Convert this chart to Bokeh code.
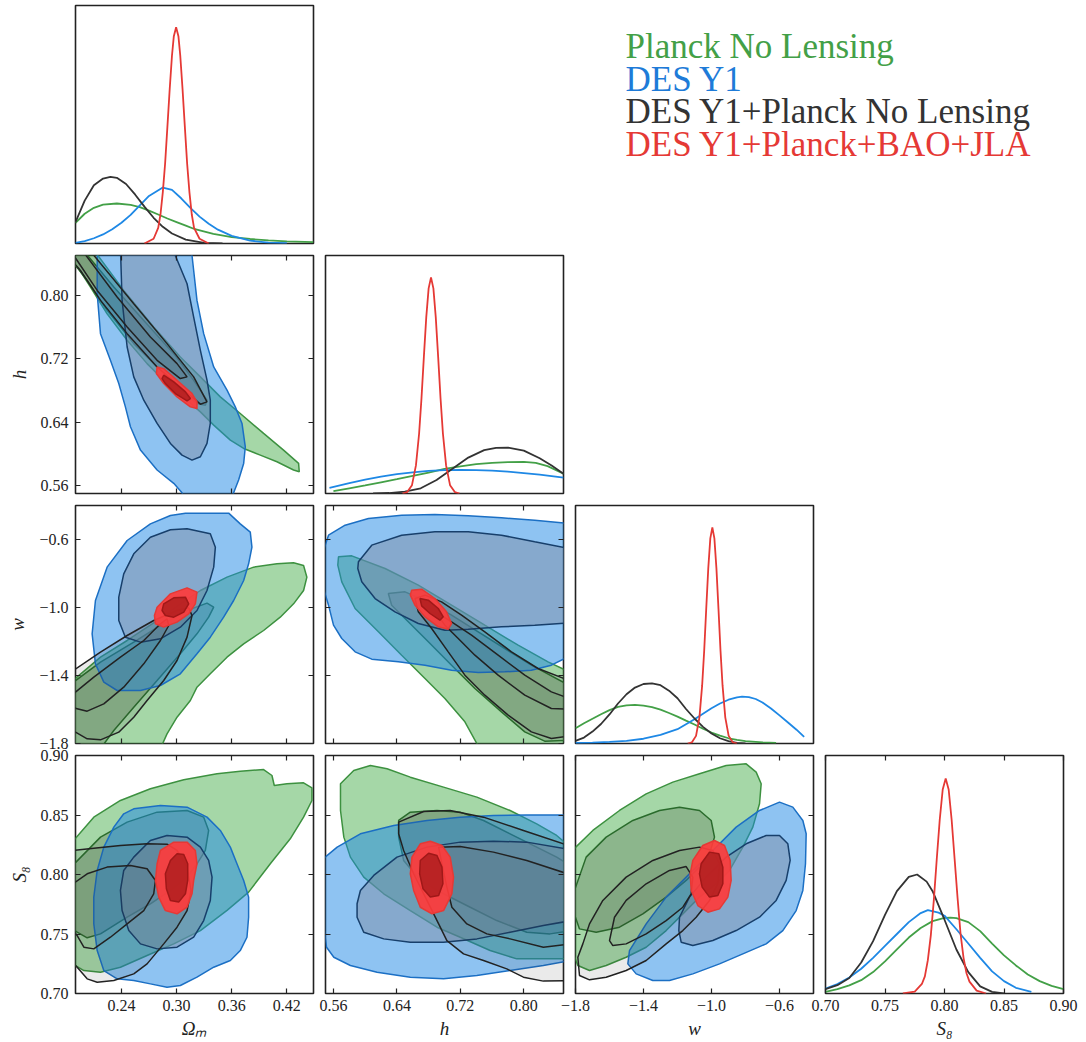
from bokeh.plotting import figure
from bokeh.models import Range1d, LinearAxis, FixedTicker, CustomJSTickFormatter, ColumnDataSource
from bokeh.layouts import row, column
from bokeh.core.properties import value
from bokeh.embed import file_html
from bokeh.resources import INLINE

# ---------------------------------------------------------------- axes
PARAMS = ["om", "h", "w", "s8"]
AXIS_LABELS = {"om": "Ωₘ", "h": "h", "w": "w", "s8": "S₈"}
OM_RANGE = (0.19, 0.449)
H_RANGE = (0.55, 0.85)
W_RANGE = (-1.8, -0.4)
S8_RANGE = (0.70, 0.90)
OM_TICKS = [0.24, 0.30, 0.36, 0.42]
H_TICKS = [0.56, 0.64, 0.72, 0.80]
W_TICKS = [-1.8, -1.4, -1.0, -0.6]
S8_TICKS = [0.70, 0.75, 0.80, 0.85, 0.90]
DECIMALS = {"om": 2, "h": 2, "w": 1, "s8": 2}

SERIES = ["planck", "des", "comb", "full"]
SERIES_NAMES = ["Planck No Lensing", "DES Y1", "DES Y1+Planck No Lensing", "DES Y1+Planck+BAO+JLA"]

# ---------------------------------------------------------------- 1D marginals
planck_om_x = [0.19, 0.20, 0.21, 0.22, 0.235, 0.25, 0.26, 0.27, 0.28, 0.29, 0.30, 0.31, 0.32, 0.34, 0.36, 0.38, 0.40, 0.42, 0.449]
planck_om_y = [0.087, 0.125, 0.150, 0.163, 0.168, 0.162, 0.153, 0.138, 0.122, 0.105, 0.090, 0.075, 0.060, 0.040, 0.027, 0.019, 0.013, 0.009, 0.006]
des_om_x = [0.19, 0.20, 0.21, 0.22, 0.23, 0.24, 0.25, 0.26, 0.27, 0.285, 0.295, 0.305, 0.315, 0.325, 0.335, 0.345, 0.36, 0.38, 0.40, 0.42]
des_om_y = [0.003, 0.010, 0.022, 0.038, 0.060, 0.087, 0.120, 0.160, 0.200, 0.235, 0.225, 0.190, 0.150, 0.113, 0.083, 0.058, 0.032, 0.012, 0.004, 0.001]
comb_om_x = [0.19, 0.20, 0.21, 0.22, 0.228, 0.235, 0.245, 0.255, 0.265, 0.275, 0.285, 0.295, 0.31, 0.33, 0.35]
comb_om_y = [0.090, 0.180, 0.245, 0.273, 0.280, 0.276, 0.250, 0.205, 0.155, 0.108, 0.070, 0.042, 0.016, 0.003, 0.0]
full_om_x = [0.265, 0.275, 0.28, 0.2825, 0.285, 0.2875, 0.29, 0.2925, 0.295, 0.297, 0.2995, 0.302, 0.304, 0.3065, 0.309, 0.3115, 0.314, 0.3165, 0.319, 0.325, 0.335]
full_om_y = [0.0, 0.02, 0.066, 0.123, 0.215, 0.335, 0.49, 0.648, 0.79, 0.871, 0.909, 0.871, 0.79, 0.648, 0.49, 0.335, 0.215, 0.123, 0.066, 0.02, 0.0]

planck_h_x = [0.56, 0.58, 0.60, 0.62, 0.64, 0.66, 0.68, 0.70, 0.72, 0.74, 0.76, 0.78, 0.80, 0.815, 0.83, 0.85]
planck_h_y = [0.010, 0.022, 0.034, 0.047, 0.060, 0.074, 0.088, 0.103, 0.114, 0.123, 0.129, 0.132, 0.133, 0.129, 0.115, 0.083]
des_h_x = [0.555, 0.58, 0.60, 0.62, 0.64, 0.66, 0.68, 0.70, 0.72, 0.74, 0.76, 0.78, 0.80, 0.82, 0.85]
des_h_y = [0.024, 0.044, 0.058, 0.071, 0.081, 0.089, 0.095, 0.098, 0.099, 0.098, 0.096, 0.092, 0.086, 0.079, 0.067]
comb_h_x = [0.61, 0.63, 0.65, 0.67, 0.69, 0.71, 0.73, 0.75, 0.765, 0.78, 0.80, 0.82, 0.835, 0.85]
comb_h_y = [0.0, 0.002, 0.008, 0.022, 0.057, 0.104, 0.151, 0.182, 0.192, 0.193, 0.180, 0.148, 0.118, 0.083]
full_h_x = [0.647, 0.653, 0.659, 0.664, 0.668, 0.671, 0.674, 0.677, 0.680, 0.683, 0.686, 0.689, 0.692, 0.695, 0.698, 0.702, 0.707, 0.713, 0.719]
full_h_y = [0.0, 0.006, 0.035, 0.118, 0.252, 0.400, 0.574, 0.740, 0.862, 0.908, 0.862, 0.740, 0.574, 0.400, 0.252, 0.118, 0.035, 0.006, 0.0]

planck_w_x = [-1.80, -1.75, -1.70, -1.65, -1.60, -1.55, -1.50, -1.45, -1.40, -1.35, -1.30, -1.25, -1.20, -1.15, -1.10, -1.05, -1.00, -0.95, -0.90, -0.85, -0.80, -0.70, -0.62]
planck_w_y = [0.064, 0.085, 0.104, 0.123, 0.140, 0.154, 0.160, 0.162, 0.159, 0.153, 0.142, 0.128, 0.113, 0.096, 0.080, 0.062, 0.046, 0.033, 0.022, 0.015, 0.010, 0.005, 0.003]
des_w_x = [-1.80, -1.70, -1.60, -1.50, -1.40, -1.30, -1.20, -1.10, -1.00, -0.95, -0.90, -0.85, -0.82, -0.78, -0.74, -0.70, -0.65, -0.60, -0.55, -0.50, -0.455]
des_w_y = [0.002, 0.004, 0.007, 0.011, 0.020, 0.036, 0.060, 0.102, 0.148, 0.168, 0.184, 0.194, 0.197, 0.195, 0.187, 0.172, 0.147, 0.118, 0.088, 0.058, 0.028]
comb_w_x = [-1.80, -1.75, -1.70, -1.65, -1.60, -1.55, -1.50, -1.45, -1.40, -1.35, -1.30, -1.25, -1.20, -1.15, -1.10, -1.05, -1.00, -0.95, -0.90, -0.85, -0.80]
comb_w_y = [0.011, 0.025, 0.050, 0.082, 0.122, 0.168, 0.207, 0.235, 0.250, 0.253, 0.245, 0.222, 0.190, 0.145, 0.105, 0.070, 0.042, 0.022, 0.010, 0.003, 0.0]
full_w_x = [-1.14, -1.115, -1.091, -1.071, -1.055, -1.043, -1.031, -1.019, -1.007, -0.995, -0.983, -0.971, -0.959, -0.947, -0.935, -0.919, -0.899, -0.875, -0.85]
full_w_y = [0.0, 0.005, 0.032, 0.110, 0.244, 0.390, 0.566, 0.736, 0.862, 0.908, 0.862, 0.736, 0.566, 0.390, 0.244, 0.110, 0.032, 0.005, 0.0]

planck_s8_x = [0.70, 0.71, 0.72, 0.73, 0.74, 0.75, 0.76, 0.77, 0.78, 0.79, 0.80, 0.805, 0.81, 0.82, 0.83, 0.84, 0.85, 0.86, 0.87, 0.88, 0.89, 0.90]
planck_s8_y = [0.007, 0.018, 0.034, 0.056, 0.090, 0.135, 0.185, 0.235, 0.275, 0.304, 0.318, 0.319, 0.317, 0.300, 0.262, 0.210, 0.160, 0.118, 0.080, 0.052, 0.032, 0.018]
des_s8_x = [0.70, 0.71, 0.72, 0.73, 0.74, 0.75, 0.76, 0.77, 0.78, 0.786, 0.795, 0.80, 0.81, 0.82, 0.83, 0.84, 0.85, 0.86, 0.873]
des_s8_y = [0.021, 0.040, 0.067, 0.104, 0.150, 0.200, 0.250, 0.300, 0.338, 0.350, 0.340, 0.327, 0.270, 0.210, 0.150, 0.093, 0.052, 0.024, 0.007]
comb_s8_x = [0.70, 0.71, 0.72, 0.73, 0.74, 0.75, 0.76, 0.77, 0.777, 0.785, 0.79, 0.80, 0.81, 0.82, 0.83, 0.84, 0.85]
comb_s8_y = [0.018, 0.035, 0.065, 0.130, 0.220, 0.330, 0.430, 0.490, 0.500, 0.470, 0.430, 0.310, 0.185, 0.090, 0.030, 0.007, 0.0]
full_s8_x = [0.765, 0.775, 0.781, 0.7835, 0.786, 0.7885, 0.791, 0.7935, 0.796, 0.7985, 0.801, 0.8035, 0.806, 0.8085, 0.811, 0.8135, 0.816, 0.8185, 0.821, 0.827, 0.835]
full_s8_y = [0.0, 0.008, 0.040, 0.072, 0.140, 0.244, 0.390, 0.565, 0.730, 0.857, 0.903, 0.857, 0.730, 0.565, 0.400, 0.250, 0.150, 0.085, 0.050, 0.012, 0.0]

# ---------------------------------------------------------------- 2D contours (95% and 68%)
# Omega_m - h
omh_planck_95 = [(0.208, 0.86), (0.2425, 0.806), (0.2751, 0.7599), (0.3041, 0.7221), (0.3259, 0.697), (0.3476, 0.6718), (0.3693, 0.6508), (0.3947, 0.6257), (0.4164, 0.6047), (0.4328, 0.5879), (0.4335, 0.5775), (0.4273, 0.5796), (0.4092, 0.59), (0.3911, 0.5984), (0.373, 0.6068), (0.3585, 0.6173), (0.3404, 0.6362), (0.3259, 0.6529), (0.3114, 0.6676), (0.2896, 0.6886), (0.2679, 0.7137), (0.2462, 0.7431), (0.2244, 0.7766), (0.2063, 0.8102), (0.1936, 0.8332), (0.185, 0.842), (0.185, 0.86)]
omh_planck_68 = [(0.196, 0.86), (0.2317, 0.8102), (0.2643, 0.7682), (0.2969, 0.7263), (0.3186, 0.6928), (0.3331, 0.6676), (0.3313, 0.6613), (0.3222, 0.6634), (0.3041, 0.6802), (0.2824, 0.7053), (0.2534, 0.7389), (0.2244, 0.7808), (0.2027, 0.8186), (0.185, 0.845), (0.185, 0.86)]
omh_des_95 = [(0.2136, 0.86), (0.2136, 0.8018), (0.2172, 0.7515), (0.228, 0.7179), (0.2371, 0.6886), (0.2443, 0.6592), (0.2498, 0.6341), (0.2607, 0.6047), (0.2788, 0.5796), (0.2969, 0.5628), (0.3059, 0.551), (0.308, 0.54), (0.36, 0.54), (0.3621, 0.551), (0.3675, 0.567), (0.373, 0.5879), (0.3748, 0.6089), (0.3712, 0.6383), (0.3639, 0.6592), (0.3549, 0.6802), (0.3404, 0.7095), (0.3295, 0.7515), (0.3222, 0.7934), (0.3168, 0.85), (0.316, 0.86)]
omh_des_68 = [(0.2389, 0.86), (0.2407, 0.7934), (0.2462, 0.7347), (0.2534, 0.697), (0.2643, 0.6676), (0.2788, 0.6383), (0.2933, 0.6131), (0.3059, 0.5984), (0.3168, 0.5921), (0.3259, 0.5963), (0.3331, 0.6131), (0.3367, 0.6383), (0.3367, 0.6676), (0.3331, 0.6928), (0.3259, 0.7305), (0.3186, 0.7724), (0.3114, 0.8144), (0.295, 0.86)]
omh_comb_95 = [(0.203, 0.86), (0.2534, 0.7892), (0.2896, 0.7389), (0.3186, 0.697), (0.3331, 0.6655), (0.3259, 0.6626), (0.3041, 0.6844), (0.2788, 0.7095), (0.2462, 0.7515), (0.2172, 0.7934), (0.1954, 0.8311), (0.185, 0.845), (0.185, 0.86)]
omh_comb_68 = [(0.195, 0.86), (0.2353, 0.7976), (0.2715, 0.7473), (0.3005, 0.7137), (0.3114, 0.697), (0.3041, 0.6949), (0.2788, 0.7179), (0.2462, 0.7599), (0.2136, 0.806), (0.1918, 0.8437), (0.185, 0.855), (0.185, 0.86)]
omh_full_95 = [(0.2788, 0.7095), (0.286, 0.7074), (0.3005, 0.6928), (0.3168, 0.676), (0.3222, 0.6655), (0.3222, 0.6571), (0.315, 0.6592), (0.3005, 0.6718), (0.286, 0.6886), (0.278, 0.7011)]
omh_full_68 = [(0.286, 0.6991), (0.2969, 0.6907), (0.3096, 0.6781), (0.315, 0.6697), (0.3114, 0.6668), (0.2987, 0.676), (0.2878, 0.6886), (0.2842, 0.6949)]

# Omega_m - w
omw_planck_95 = [(0.4273, -0.7373), (0.4382, -0.7529), (0.4418, -0.8216), (0.4382, -0.9), (0.4273, -0.9784), (0.4128, -1.0569), (0.3947, -1.1353), (0.373, -1.2137), (0.3549, -1.2922), (0.3367, -1.3902), (0.3222, -1.4686), (0.315, -1.5471), (0.3005, -1.6451), (0.2896, -1.7431), (0.2824, -1.83), (0.185, -1.83), (0.185, -1.44), (0.2172, -1.2922), (0.2462, -1.1941), (0.2788, -1.0765), (0.3041, -0.9784), (0.3259, -0.9), (0.3549, -0.8216), (0.3838, -0.7627), (0.4092, -0.7431)]
omw_planck_68 = [(0.185, -1.45), (0.2172, -1.3216), (0.2534, -1.2039), (0.2824, -1.1059), (0.3114, -1.0176), (0.3331, -0.9745), (0.3404, -0.998), (0.3349, -1.0569), (0.3222, -1.1549), (0.3041, -1.2725), (0.2788, -1.4294), (0.2534, -1.5863), (0.2317, -1.7235), (0.2172, -1.83), (0.185, -1.83)]
omw_des_95 = [(0.3096, -0.4451), (0.3567, -0.4451), (0.3693, -0.5078), (0.3802, -0.5569), (0.382, -0.6451), (0.3784, -0.7431), (0.373, -0.8412), (0.3621, -0.9588), (0.3512, -1.0569), (0.3367, -1.1745), (0.3222, -1.2725), (0.3041, -1.3902), (0.2824, -1.4588), (0.2607, -1.4882), (0.2353, -1.4882), (0.2208, -1.4392), (0.2117, -1.3314), (0.2081, -1.1549), (0.2117, -0.9588), (0.2244, -0.7627), (0.2462, -0.6059), (0.2715, -0.5078), (0.2933, -0.4588)]
omw_des_68 = [(0.3114, -0.5373), (0.3367, -0.5667), (0.3422, -0.6451), (0.3404, -0.7627), (0.3331, -0.9), (0.3222, -1.0176), (0.3041, -1.1157), (0.2824, -1.1843), (0.2607, -1.2039), (0.2443, -1.1745), (0.2371, -1.0765), (0.2371, -0.9392), (0.2425, -0.802), (0.2534, -0.6843), (0.2715, -0.5863), (0.2933, -0.5431)]
omw_comb_95 = [(0.185, -1.38), (0.2172, -1.2627), (0.2462, -1.1647), (0.2751, -1.0765), (0.3005, -1.0176), (0.3132, -1.002), (0.3168, -1.0471), (0.3114, -1.1745), (0.3005, -1.3118), (0.286, -1.4294), (0.2679, -1.5471), (0.2534, -1.6451), (0.2371, -1.7333), (0.2172, -1.7784), (0.2027, -1.7725), (0.19, -1.7333), (0.185, -1.72)]
omw_comb_68 = [(0.185, -1.52), (0.2099, -1.4098), (0.2389, -1.2922), (0.2643, -1.1941), (0.2824, -1.0961), (0.2896, -1.0667), (0.2915, -1.1059), (0.2824, -1.1941), (0.2643, -1.3314), (0.2425, -1.4686), (0.2208, -1.5667), (0.2027, -1.6098), (0.1918, -1.5961), (0.185, -1.58)]
omw_full_95 = [(0.2788, -0.998), (0.2933, -0.9196), (0.3114, -0.8843), (0.3222, -0.9098), (0.3204, -0.9784), (0.3132, -1.0373), (0.3005, -1.0863), (0.286, -1.1157), (0.277, -1.0961), (0.2759, -1.0471)]
omw_full_68 = [(0.286, -0.9784), (0.2969, -0.9431), (0.3096, -0.9392), (0.3132, -0.9784), (0.3078, -1.0275), (0.2969, -1.0569), (0.2878, -1.0471), (0.2842, -1.0176)]

# Omega_m - S8
oms_planck_95 = [(0.185, 0.826), (0.2099, 0.8482), (0.2389, 0.8622), (0.2715, 0.872), (0.3078, 0.8796), (0.344, 0.8846), (0.3693, 0.8868), (0.3947, 0.8882), (0.4038, 0.8832), (0.4063, 0.8748), (0.4201, 0.8762), (0.4382, 0.877), (0.4473, 0.8728), (0.4473, 0.8622), (0.4382, 0.8482), (0.4237, 0.83), (0.402, 0.809), (0.3784, 0.7852), (0.3549, 0.7698), (0.3259, 0.7529), (0.2969, 0.7417), (0.2679, 0.7319), (0.2389, 0.7221), (0.2172, 0.7179), (0.1991, 0.7193), (0.19, 0.7235), (0.185, 0.725)]
oms_planck_68 = [(0.185, 0.806), (0.2172, 0.8314), (0.2462, 0.844), (0.2788, 0.8524), (0.3114, 0.8538), (0.3295, 0.8482), (0.3349, 0.837), (0.3313, 0.8202), (0.3222, 0.809), (0.3114, 0.7978), (0.2933, 0.7866), (0.2715, 0.7754), (0.2462, 0.7641), (0.2172, 0.7501), (0.2027, 0.7468), (0.1918, 0.7515), (0.185, 0.756)]
oms_des_95 = [(0.2534, 0.8552), (0.2824, 0.858), (0.3114, 0.8566), (0.3331, 0.8482), (0.3476, 0.837), (0.3585, 0.823), (0.3657, 0.809), (0.373, 0.795), (0.3784, 0.781), (0.3784, 0.7641), (0.3766, 0.7473), (0.3693, 0.7361), (0.3585, 0.7277), (0.3404, 0.7221), (0.3222, 0.7137), (0.3041, 0.7067), (0.2896, 0.7053), (0.2715, 0.7081), (0.2534, 0.7109), (0.2353, 0.7123), (0.2208, 0.7193), (0.2136, 0.7361), (0.2099, 0.7585), (0.2099, 0.781), (0.2136, 0.8034), (0.2208, 0.823), (0.2317, 0.8398), (0.2425, 0.851)]
oms_des_68 = [(0.2534, 0.8146), (0.2715, 0.8286), (0.2896, 0.8328), (0.3114, 0.8314), (0.3259, 0.823), (0.3349, 0.8118), (0.3386, 0.7978), (0.3367, 0.7782), (0.3295, 0.7613), (0.3186, 0.7473), (0.3005, 0.7389), (0.2788, 0.7375), (0.2607, 0.7417), (0.248, 0.7529), (0.2407, 0.7697), (0.2389, 0.7866), (0.2425, 0.8034)]
oms_comb_95 = [(0.185, 0.82), (0.2099, 0.8221), (0.2389, 0.8244), (0.2679, 0.8258), (0.2896, 0.8255), (0.3005, 0.8202), (0.3114, 0.8062), (0.3157, 0.7866), (0.3114, 0.7697), (0.3005, 0.7557), (0.286, 0.7417), (0.2679, 0.7249), (0.2534, 0.7165), (0.2317, 0.7109), (0.2136, 0.7095), (0.2027, 0.7123), (0.1918, 0.7221), (0.185, 0.728)]
oms_comb_68 = [(0.185, 0.791), (0.2027, 0.8006), (0.2244, 0.8062), (0.2498, 0.8076), (0.2679, 0.8048), (0.277, 0.795), (0.2751, 0.7838), (0.2643, 0.7697), (0.2462, 0.7585), (0.228, 0.7473), (0.2099, 0.7375), (0.1991, 0.7389), (0.1918, 0.7487), (0.185, 0.755)]
oms_full_95 = [(0.2824, 0.8202), (0.2969, 0.8272), (0.3114, 0.8272), (0.3204, 0.8202), (0.3222, 0.809), (0.3186, 0.795), (0.3168, 0.7838), (0.3114, 0.7726), (0.3005, 0.7669), (0.2878, 0.7697), (0.2806, 0.781), (0.277, 0.795), (0.2788, 0.809)]
oms_full_68 = [(0.2933, 0.8118), (0.3005, 0.8174), (0.3078, 0.8168), (0.3121, 0.809), (0.3121, 0.795), (0.3096, 0.7838), (0.3023, 0.7768), (0.2933, 0.7782), (0.2889, 0.788), (0.2878, 0.8006)]

# h - w
hw_planck_95 = [(0.5664, -0.702), (0.5831, -0.6961), (0.6251, -0.7706), (0.667, -0.8686), (0.7089, -0.9863), (0.7508, -1.1039), (0.7928, -1.2216), (0.8305, -1.3196), (0.86, -1.385), (0.86, -1.85), (0.7466, -1.85), (0.7257, -1.6725), (0.7005, -1.5353), (0.6754, -1.4176), (0.646, -1.2804), (0.6167, -1.1431), (0.5873, -1.0059), (0.5705, -0.849), (0.5655, -0.751)]
hw_planck_68 = [(0.6292, -0.9176), (0.6502, -0.9078), (0.6796, -0.9667), (0.7089, -1.0451), (0.7425, -1.1431), (0.776, -1.2412), (0.8095, -1.3392), (0.86, -1.465), (0.86, -1.78), (0.8263, -1.7863), (0.8012, -1.7314), (0.7718, -1.6137), (0.7383, -1.4765), (0.7089, -1.3392), (0.6796, -1.202), (0.6502, -1.0647), (0.6334, -0.9863)]
hw_des_95 = [(0.5538, -0.5745), (0.5747, -0.5157), (0.6041, -0.4765), (0.646, -0.4569), (0.6879, -0.4529), (0.7299, -0.4608), (0.7718, -0.4725), (0.8137, -0.4863), (0.86, -0.507), (0.86, -1.28), (0.8347, -1.3392), (0.8095, -1.3686), (0.776, -1.3784), (0.7425, -1.3824), (0.7089, -1.3686), (0.6754, -1.3392), (0.6418, -1.3196), (0.6083, -1.3039), (0.5873, -1.2608), (0.5705, -1.1824), (0.5601, -1.1039), (0.5538, -0.9863), (0.545, -0.85), (0.545, -0.7)]
hw_des_68 = [(0.5915, -0.7314), (0.6083, -0.6333), (0.646, -0.5745), (0.6879, -0.5549), (0.7299, -0.5549), (0.7718, -0.5745), (0.8137, -0.6137), (0.86, -0.655), (0.86, -1.09), (0.8137, -1.1039), (0.7718, -1.1137), (0.7299, -1.1275), (0.7005, -1.1333), (0.667, -1.0941), (0.6376, -1.0255), (0.6125, -0.9471), (0.5957, -0.849), (0.5907, -0.7706)]
hw_comb_95 = [(0.6628, -0.9471), (0.6754, -0.9275), (0.6963, -0.9667), (0.7215, -1.0451), (0.7508, -1.1431), (0.7844, -1.2608), (0.8179, -1.3588), (0.86, -1.435), (0.86, -1.755), (0.8347, -1.7706), (0.8095, -1.7314), (0.7802, -1.6333), (0.7508, -1.5157), (0.7257, -1.398), (0.7047, -1.2608), (0.6838, -1.1235), (0.667, -1.0255)]
hw_comb_68 = [(0.6921, -1.0353), (0.7089, -1.0843), (0.7341, -1.1627), (0.7676, -1.2804), (0.8012, -1.398), (0.8347, -1.4961), (0.86, -1.54), (0.86, -1.598), (0.8347, -1.5941), (0.8012, -1.5157), (0.7676, -1.398), (0.7383, -1.2804), (0.7173, -1.1824), (0.7005, -1.1039), (0.693, -1.0549)]
hw_full_95 = [(0.6586, -0.898), (0.6712, -0.8922), (0.6879, -0.9471), (0.7026, -1.0255), (0.7089, -1.0941), (0.7047, -1.1275), (0.6921, -1.1137), (0.6754, -1.0549), (0.6628, -0.9863), (0.6569, -0.9275)]
hw_full_68 = [(0.6691, -0.9471), (0.6796, -0.9569), (0.6921, -1.0059), (0.6984, -1.0549), (0.6942, -1.0745), (0.6817, -1.0353), (0.6712, -0.9902)]

# h - S8
hs_planck_95 = [(0.5689, 0.8762), (0.5856, 0.8874), (0.6066, 0.8916), (0.6276, 0.8888), (0.6569, 0.8818), (0.6988, 0.8734), (0.7408, 0.865), (0.7827, 0.8538), (0.8162, 0.8426), (0.8414, 0.8328), (0.86, 0.822), (0.86, 0.7291), (0.8246, 0.7291), (0.7911, 0.7291), (0.7575, 0.7361), (0.7198, 0.7473), (0.6905, 0.7557), (0.6569, 0.7697), (0.6234, 0.7838), (0.5982, 0.7978), (0.5814, 0.8146), (0.5731, 0.8314), (0.5689, 0.8538)]
hs_planck_68 = [(0.6422, 0.8454), (0.6569, 0.8524), (0.6905, 0.8538), (0.7198, 0.8524), (0.7492, 0.8454), (0.7827, 0.8342), (0.8162, 0.823), (0.8414, 0.8146), (0.86, 0.807), (0.86, 0.7529), (0.833, 0.7501), (0.8037, 0.7515), (0.7659, 0.7613), (0.7324, 0.7725), (0.6988, 0.7838), (0.6695, 0.795), (0.6485, 0.8118), (0.6422, 0.8314)]
hs_des_95 = [(0.545, 0.812), (0.5647, 0.823), (0.594, 0.8342), (0.636, 0.8412), (0.6779, 0.8454), (0.7198, 0.8482), (0.7617, 0.8496), (0.8037, 0.8501), (0.86, 0.8501), (0.86, 0.7277), (0.8246, 0.7235), (0.7827, 0.7193), (0.7408, 0.7151), (0.6988, 0.7123), (0.6569, 0.7137), (0.615, 0.7179), (0.5814, 0.7235), (0.5605, 0.7305), (0.5513, 0.7389), (0.545, 0.77)]
hs_des_68 = [(0.594, 0.7866), (0.6108, 0.7992), (0.6401, 0.8146), (0.6779, 0.823), (0.7198, 0.8272), (0.7617, 0.828), (0.8037, 0.8272), (0.86, 0.8207), (0.86, 0.7613), (0.8246, 0.7571), (0.7827, 0.7515), (0.7408, 0.7459), (0.6988, 0.7431), (0.6569, 0.7431), (0.6234, 0.7459), (0.5982, 0.7515), (0.5898, 0.7641), (0.5898, 0.7754)]
hs_comb_95 = [(0.6422, 0.844), (0.6737, 0.8529), (0.7072, 0.8538), (0.7492, 0.8482), (0.7995, 0.837), (0.86, 0.8235), (0.86, 0.7109), (0.8246, 0.7104), (0.7995, 0.7137), (0.7785, 0.7207), (0.7492, 0.7277), (0.724, 0.7333), (0.703, 0.7445), (0.6926, 0.7585), (0.6779, 0.7782), (0.6611, 0.8006), (0.6485, 0.8202), (0.6422, 0.8342)]
hs_comb_68 = [(0.6926, 0.823), (0.7198, 0.8235), (0.7617, 0.8188), (0.8037, 0.8118), (0.86, 0.7995), (0.86, 0.7417), (0.8246, 0.7389), (0.7827, 0.7459), (0.7534, 0.7501), (0.7282, 0.7585), (0.7093, 0.7725), (0.703, 0.7894), (0.6967, 0.809)]
hs_full_95 = [(0.659, 0.8146), (0.6695, 0.8258), (0.6821, 0.828), (0.6968, 0.8244), (0.7072, 0.8146), (0.7114, 0.7978), (0.7093, 0.7838), (0.6988, 0.7697), (0.6842, 0.7669), (0.6695, 0.7725), (0.6611, 0.7866), (0.6569, 0.8006)]
hs_full_68 = [(0.6695, 0.8118), (0.68, 0.8179), (0.6905, 0.816), (0.6968, 0.8062), (0.698, 0.7922), (0.6926, 0.7824), (0.6821, 0.781), (0.6729, 0.788), (0.6687, 0.8006)]

# w - S8
ws_planck_95 = [(-1.82, 0.82), (-1.698, 0.837), (-1.5412, 0.8538), (-1.3843, 0.8678), (-1.2275, 0.8776), (-1.0706, 0.8846), (-0.9137, 0.8916), (-0.7961, 0.893), (-0.7373, 0.886), (-0.7078, 0.8762), (-0.7176, 0.8594), (-0.7569, 0.8398), (-0.8157, 0.823), (-0.8941, 0.8034), (-0.9725, 0.7922), (-1.0706, 0.781), (-1.1686, 0.7669), (-1.2667, 0.7529), (-1.3843, 0.7389), (-1.502, 0.7305), (-1.6196, 0.7235), (-1.7176, 0.7193), (-1.7863, 0.7235), (-1.82, 0.7361)]
ws_planck_68 = [(-1.81, 0.785), (-1.7373, 0.8146), (-1.6196, 0.8314), (-1.4627, 0.8454), (-1.3059, 0.8538), (-1.1882, 0.8566), (-1.0706, 0.8538), (-1.002, 0.8454), (-0.9824, 0.8314), (-1.0118, 0.8174), (-1.0706, 0.8062), (-1.149, 0.795), (-1.2667, 0.781), (-1.4039, 0.7669), (-1.5412, 0.7557), (-1.6784, 0.7515), (-1.7765, 0.7543), (-1.81, 0.768)]
ws_des_95 = [(-1.4824, 0.7361), (-1.3843, 0.7585), (-1.2667, 0.781), (-1.1294, 0.8006), (-0.9922, 0.8202), (-0.8549, 0.8398), (-0.7176, 0.8538), (-0.6, 0.8608), (-0.5216, 0.8566), (-0.4627, 0.8454), (-0.4431, 0.8342), (-0.4471, 0.809), (-0.4627, 0.7866), (-0.502, 0.7697), (-0.5804, 0.7529), (-0.6784, 0.7417), (-0.8157, 0.7333), (-0.9529, 0.7249), (-1.1098, 0.7165), (-1.2471, 0.7109), (-1.3451, 0.7109), (-1.4431, 0.7165), (-1.4922, 0.7249)]
ws_des_68 = [(-1.1882, 0.7641), (-1.1294, 0.781), (-1.0314, 0.7978), (-0.9137, 0.8146), (-0.7961, 0.8258), (-0.6784, 0.8328), (-0.6, 0.8328), (-0.551, 0.8258), (-0.5373, 0.8118), (-0.5608, 0.795), (-0.6196, 0.7782), (-0.7176, 0.7641), (-0.8549, 0.7529), (-0.9922, 0.7445), (-1.1098, 0.7403), (-1.1784, 0.7431), (-1.1922, 0.7529)]
ws_comb_95 = [(-1.7863, 0.7305), (-1.7569, 0.7417), (-1.7176, 0.7585), (-1.6392, 0.7782), (-1.502, 0.7978), (-1.3451, 0.8118), (-1.1882, 0.8202), (-1.0706, 0.823), (-0.9922, 0.8202), (-0.9529, 0.809), (-0.9627, 0.7922), (-1.0118, 0.7782), (-1.0902, 0.7641), (-1.1686, 0.7529), (-1.2667, 0.7417), (-1.3843, 0.7277), (-1.502, 0.7193), (-1.6196, 0.7137), (-1.7176, 0.7115), (-1.7765, 0.7151)]
ws_comb_68 = [(-1.6, 0.7445), (-1.5706, 0.7641), (-1.502, 0.7782), (-1.3843, 0.7922), (-1.2471, 0.8034), (-1.149, 0.8067), (-1.1098, 0.7978), (-1.1196, 0.7838), (-1.1686, 0.7725), (-1.2667, 0.7613), (-1.3843, 0.7501), (-1.502, 0.7417), (-1.5804, 0.7403)]
ws_full_95 = [(-1.1098, 0.8118), (-1.051, 0.8244), (-0.9824, 0.8286), (-0.9235, 0.8244), (-0.8902, 0.8118), (-0.8843, 0.795), (-0.9039, 0.781), (-0.9529, 0.7711), (-1.0216, 0.7683), (-1.0804, 0.7739), (-1.1196, 0.7866), (-1.1255, 0.8006)]
ws_full_68 = [(-1.0608, 0.809), (-1.0118, 0.8188), (-0.9569, 0.8174), (-0.9333, 0.8062), (-0.9333, 0.7922), (-0.9627, 0.7824), (-1.0118, 0.781), (-1.0549, 0.7894), (-1.0706, 0.8006)]

# ---------------------------------------------------------------- styling
RANGES = {"om": OM_RANGE, "h": H_RANGE, "w": W_RANGE, "s8": S8_RANGE}
TICKS = {"om": OM_TICKS, "h": H_TICKS, "w": W_TICKS, "s8": S8_TICKS}
LINE_1D = {"planck": "#43A047", "des": "#1E88E5", "comb": "#333333", "full": "#E53935"}
TEXT_COL = {"planck": "#43A047", "des": "#1E7BD8", "comb": "#333333", "full": "#E53935"}
STYLE_2D = {
    "planck": dict(f95="#4CAF50", a95=0.5, f68="#6f8f6d", a68=0.45, l95="#3d9140", l68="#2a6b2c"),
    "des": dict(f95="#1E88E5", a95=0.5, f68="#7d8aa0", a68=0.45, l95="#1b6fc4", l68="#173f6b"),
    "comb": dict(f95="#333333", a95=0.1, f68="#333333", a68=0.07, l95="#222222", l68="#222222"),
    "full": dict(f95="#ff3b3b", a95=0.92, f68="#b01e1e", a68=0.85, l95="#e53935", l68="#a01818"),
}

MARGINALS = {
    "om": {"planck": (planck_om_x, planck_om_y), "des": (des_om_x, des_om_y), "comb": (comb_om_x, comb_om_y), "full": (full_om_x, full_om_y)},
    "h": {"planck": (planck_h_x, planck_h_y), "des": (des_h_x, des_h_y), "comb": (comb_h_x, comb_h_y), "full": (full_h_x, full_h_y)},
    "w": {"planck": (planck_w_x, planck_w_y), "des": (des_w_x, des_w_y), "comb": (comb_w_x, comb_w_y), "full": (full_w_x, full_w_y)},
    "s8": {"planck": (planck_s8_x, planck_s8_y), "des": (des_s8_x, des_s8_y), "comb": (comb_s8_x, comb_s8_y), "full": (full_s8_x, full_s8_y)},
}
CONTOURS = {
    (1, 0): {"planck": (omh_planck_95, omh_planck_68), "des": (omh_des_95, omh_des_68), "comb": (omh_comb_95, omh_comb_68), "full": (omh_full_95, omh_full_68)},
    (2, 0): {"planck": (omw_planck_95, omw_planck_68), "des": (omw_des_95, omw_des_68), "comb": (omw_comb_95, omw_comb_68), "full": (omw_full_95, omw_full_68)},
    (3, 0): {"planck": (oms_planck_95, oms_planck_68), "des": (oms_des_95, oms_des_68), "comb": (oms_comb_95, oms_comb_68), "full": (oms_full_95, oms_full_68)},
    (2, 1): {"planck": (hw_planck_95, hw_planck_68), "des": (hw_des_95, hw_des_68), "comb": (hw_comb_95, hw_comb_68), "full": (hw_full_95, hw_full_68)},
    (3, 1): {"planck": (hs_planck_95, hs_planck_68), "des": (hs_des_95, hs_des_68), "comb": (hs_comb_95, hs_comb_68), "full": (hs_full_95, hs_full_68)},
    (3, 2): {"planck": (ws_planck_95, ws_planck_68), "des": (ws_des_95, ws_des_68), "comb": (ws_comb_95, ws_comb_68), "full": (ws_full_95, ws_full_68)},
}

FRAME = 238          # frame size in px
GAP = 12             # visible gap between frames
INNER = 16           # border on the inner sides of each figure
OVERLAP = 2 * INNER - GAP
LEFT0 = 75
TOP0 = 5
RIGHT_LAST = 15
BOTTOM_LAST = 46
FONT = "'Liberation Serif', 'Times New Roman', serif"
INK = "#222222"


def make_axis(param, show_labels, label=None, horizontal=True):
    dec = DECIMALS[param]
    if show_labels:
        code = "return tick.toFixed(%d).replace('-', '\u2212');" % dec
    else:
        code = "return '';"
    ax = LinearAxis(
        ticker=FixedTicker(ticks=TICKS[param], minor_ticks=[]),
        formatter=CustomJSTickFormatter(code=code),
        major_tick_in=5, major_tick_out=0, minor_tick_in=0, minor_tick_out=0,
        axis_line_color=None, major_tick_line_color=INK, major_tick_line_width=1.2,
    )
    if show_labels:
        ax.major_label_text_font = FONT
        ax.major_label_text_font_size = "16px"
        ax.major_label_text_color = INK
        ax.major_label_standoff = 6 if horizontal else 7
    else:
        ax.major_label_text_font_size = "0px"
        ax.major_label_standoff = 0
    if label:
        ax.axis_label = label
        ax.axis_label_text_font = FONT
        ax.axis_label_text_font_style = "italic"
        ax.axis_label_text_font_size = "19px"
        ax.axis_label_text_color = INK
        ax.axis_label_standoff = 4 if horizontal else 8
    return ax


def make_panel(r, c):
    xp = PARAMS[c]
    yr = Range1d(0, 1) if r == c else Range1d(*RANGES[PARAMS[r]])
    p = figure(frame_width=FRAME, frame_height=FRAME,
               x_range=Range1d(*RANGES[xp]), y_range=yr,
               x_axis_location=None, y_axis_location=None,
               toolbar_location=None, tools="", output_backend="svg",
               min_border_left=LEFT0 if c == 0 else INNER,
               min_border_right=RIGHT_LAST if c == 3 else INNER,
               min_border_top=TOP0 if r == 0 else INNER,
               min_border_bottom=BOTTOM_LAST if r == 3 else INNER)
    p.margin = (-OVERLAP if r > 0 else 0, 0, 0, -OVERLAP if c > 0 else 0)
    p.outline_line_color = INK
    p.outline_line_width = 1.6
    p.grid.grid_line_color = None
    p.background_fill_color = "white"
    p.border_fill_color = None

    if r == c:
        for s in SERIES:
            xs, ys = MARGINALS[xp][s]
            p.line(xs, ys, line_color=LINE_1D[s], line_width=1.8)
        if r == 3:
            p.add_layout(make_axis(xp, True, AXIS_LABELS[xp], True), "below")
            p.add_layout(make_axis(xp, False, None, True), "above")
    else:
        yp = PARAMS[r]
        for s in SERIES:
            outer, inner = CONTOURS[(r, c)][s]
            st = STYLE_2D[s]
            ox = [pt[0] for pt in outer]
            oy = [pt[1] for pt in outer]
            ix = [pt[0] for pt in inner]
            iy = [pt[1] for pt in inner]
            p.patch(ox, oy, fill_color=st["f95"], fill_alpha=st["a95"], line_color=st["l95"], line_width=1.5)
            p.patch(ix, iy, fill_color=st["f68"], fill_alpha=st["a68"], line_color=st["l68"], line_width=1.5)
        p.add_layout(make_axis(yp, c == 0, AXIS_LABELS[yp] if c == 0 else None, False), "left")
        p.add_layout(make_axis(yp, False, None, False), "right")
        p.add_layout(make_axis(xp, r == 3, AXIS_LABELS[xp] if r == 3 else None, True), "below")
        p.add_layout(make_axis(xp, False, None, True), "above")
    return p


panels = {}
for r in range(4):
    for c in range(r + 1):
        panels[(r, c)] = make_panel(r, c)

# legend block (to the right of the first panel), frame aligned with the first panel's frame
LEG_LEFT = LEFT0 + FRAME + INNER - OVERLAP
LEG_W = 1078 - LEG_LEFT
leg = figure(frame_width=LEG_W, frame_height=FRAME,
             x_range=Range1d(0, LEG_W), y_range=Range1d(0, FRAME),
             x_axis_location=None, y_axis_location=None, toolbar_location=None, tools="",
             output_backend="svg", title=None,
             min_border_left=0, min_border_right=0, min_border_top=TOP0, min_border_bottom=INNER,
             outline_line_color=None)
leg.margin = (0, 0, 0, -OVERLAP)
leg.grid.grid_line_color = None
leg.border_fill_color = None
leg.background_fill_color = None
first_baseline = 46 - TOP0      # px below the frame top
line_step = 32.7
leg_src = ColumnDataSource(dict(
    x=[625 - LEG_LEFT] * 4,
    y=[FRAME - first_baseline - line_step * i for i in range(4)],
    text=SERIES_NAMES,
    color=[TEXT_COL[s] for s in SERIES],
))
leg.text(x="x", y="y", text="text", text_color="color", source=leg_src,
         text_font=value(FONT), text_font_size=value("35px"),
         text_baseline="alphabetic", text_align="left")

layout = column(
    row(panels[(0, 0)], leg),
    row(panels[(1, 0)], panels[(1, 1)]),
    row(panels[(2, 0)], panels[(2, 1)], panels[(2, 2)]),
    row(panels[(3, 0)], panels[(3, 1)], panels[(3, 2)], panels[(3, 3)]),
)

open("out.html", "w").write(file_html(layout, INLINE))
